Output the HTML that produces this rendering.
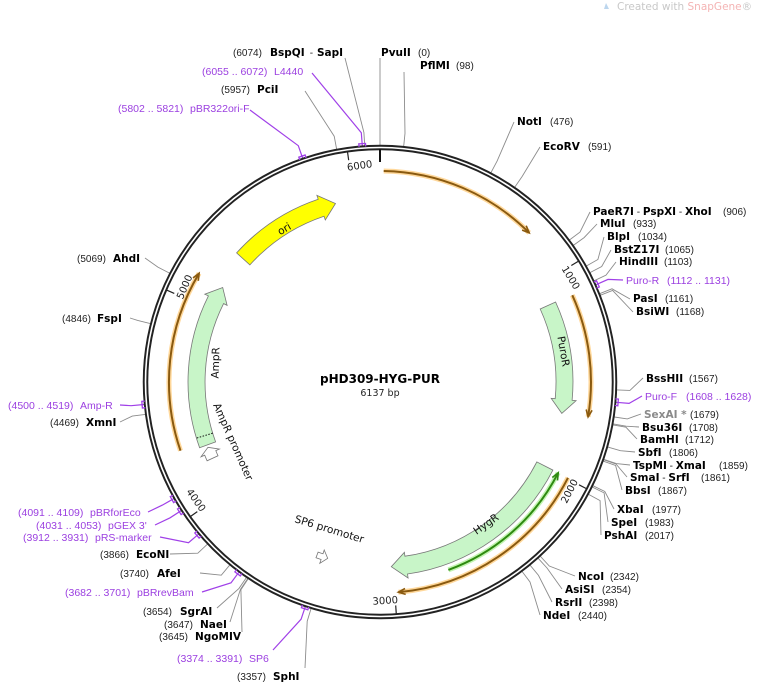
<!DOCTYPE html>
<html><head><meta charset="utf-8"><style>
html,body{margin:0;padding:0;background:#fff;}
svg{display:block;font-family:"DejaVu Sans","Liberation Sans",sans-serif;}
.b{font-weight:bold;font-size:10.5px;fill:#000}
.n{font-size:10px;fill:#222;font-family:"Liberation Sans",sans-serif}
.p{font-size:10.5px;fill:#9b3fe0;font-family:"Liberation Sans",sans-serif}
</style></head><body>
<svg id="s" width="760" height="683" viewBox="0 0 760 683" xmlns="http://www.w3.org/2000/svg">
<text x="617" y="10" font-size="10.5" fill="#c8c8c8">Created with <tspan fill="#f4b4b4">SnapGene</tspan>®</text>
<path d="M606 3 l3 6 l-5 0 z" fill="#bcd6ee"/>
<g id="lines"></g>
<circle cx="380" cy="382" r="234.5" fill="none" stroke="#222" stroke-width="5.5"/>
<circle cx="380" cy="382" r="234.5" fill="none" stroke="#fff" stroke-width="1.6"/>
<g id="feat"></g>
<g id="ticks" font-size="10" fill="#222"></g>
<text x="380" y="383" text-anchor="middle" font-weight="bold" font-size="12">pHD309-HYG-PUR</text>
<text x="380" y="396" text-anchor="middle" font-size="9.5" fill="#222">6137 bp</text>
<text font-size="10.5" fill="#111" transform="translate(286,232) rotate(-30)" text-anchor="middle">ori</text>
<text font-size="10.5" fill="#111" transform="translate(560,352) rotate(80)" text-anchor="middle">PuroR</text>
<text font-size="10.5" fill="#111" transform="translate(488,527) rotate(-35)" text-anchor="middle">HygR</text>
<text font-size="10.5" fill="#111" transform="translate(219,363) rotate(-88)" text-anchor="middle">AmpR</text>
<text font-size="10.5" fill="#111" transform="translate(213,405) rotate(66)">AmpR promoter</text>
<text font-size="10.5" fill="#111" transform="translate(294,522) rotate(17)">SP6 promoter</text>

<text y="56"><tspan x="233" class="n">(6074)</tspan><tspan x="270" class="b">BspQI</tspan><tspan x="307" class="n"> - </tspan><tspan x="317" class="b">SapI</tspan></text>
<text y="56"><tspan x="381" class="b">PvuII</tspan><tspan x="418" class="n">(0)</tspan></text>
<text y="69"><tspan x="420" class="b">PflMI</tspan><tspan x="456" class="n">(98)</tspan></text>
<text y="75"><tspan x="202" class="p">(6055 .. 6072)</tspan><tspan x="274" class="p" font-size="11">L4440</tspan></text>
<text y="93"><tspan x="221" class="n">(5957)</tspan><tspan x="257" class="b">PciI</tspan></text>
<text y="112"><tspan x="118" class="p">(5802 .. 5821)</tspan><tspan x="190" class="p" font-size="11">pBR322ori-F</tspan></text>
<text y="125"><tspan x="517" class="b">NotI</tspan><tspan x="550" class="n">(476)</tspan></text>
<text y="150"><tspan x="543" class="b">EcoRV</tspan><tspan x="588" class="n">(591)</tspan></text>
<text y="215"><tspan x="593" class="b">PaeR7I</tspan><tspan class="n"> - </tspan><tspan class="b">PspXI</tspan><tspan class="n"> - </tspan><tspan class="b">XhoI</tspan><tspan x="723" class="n">(906)</tspan></text>
<text y="227"><tspan x="600" class="b">MluI</tspan><tspan x="633" class="n">(933)</tspan></text>
<text y="240"><tspan x="607" class="b">BlpI</tspan><tspan x="638" class="n">(1034)</tspan></text>
<text y="253"><tspan x="614" class="b">BstZ17I</tspan><tspan x="665" class="n">(1065)</tspan></text>
<text y="265"><tspan x="619" class="b">HindIII</tspan><tspan x="664" class="n">(1103)</tspan></text>
<text y="284"><tspan x="626" class="p">Puro-R</tspan><tspan x="667" class="p">(1112 .. 1131)</tspan></text>
<text y="302"><tspan x="633" class="b">PasI</tspan><tspan x="665" class="n">(1161)</tspan></text>
<text y="315"><tspan x="636" class="b">BsiWI</tspan><tspan x="676" class="n">(1168)</tspan></text>
<text y="382"><tspan x="646" class="b">BssHII</tspan><tspan x="689" class="n">(1567)</tspan></text>
<text y="400"><tspan x="645" class="p">Puro-F</tspan><tspan x="686" class="p">(1608 .. 1628)</tspan></text>
<text y="418"><tspan x="644" class="b" style="fill:#8a8a8a">SexAI *</tspan><tspan x="690" class="n">(1679)</tspan></text>
<text y="431"><tspan x="642" class="b">Bsu36I</tspan><tspan x="689" class="n">(1708)</tspan></text>
<text y="443"><tspan x="640" class="b">BamHI</tspan><tspan x="685" class="n">(1712)</tspan></text>
<text y="456"><tspan x="638" class="b">SbfI</tspan><tspan x="669" class="n">(1806)</tspan></text>
<text y="469"><tspan x="633" class="b">TspMI</tspan><tspan class="n"> - </tspan><tspan class="b">XmaI</tspan><tspan x="719" class="n">(1859)</tspan></text>
<text y="481"><tspan x="630" class="b">SmaI</tspan><tspan class="n"> - </tspan><tspan class="b">SrfI</tspan><tspan x="701" class="n">(1861)</tspan></text>
<text y="494"><tspan x="625" class="b">BbsI</tspan><tspan x="658" class="n">(1867)</tspan></text>
<text y="513"><tspan x="617" class="b">XbaI</tspan><tspan x="652" class="n">(1977)</tspan></text>
<text y="526"><tspan x="611" class="b">SpeI</tspan><tspan x="645" class="n">(1983)</tspan></text>
<text y="539"><tspan x="604" class="b">PshAI</tspan><tspan x="645" class="n">(2017)</tspan></text>
<text y="580"><tspan x="578" class="b">NcoI</tspan><tspan x="610" class="n">(2342)</tspan></text>
<text y="593"><tspan x="565" class="b">AsiSI</tspan><tspan x="602" class="n">(2354)</tspan></text>
<text y="606"><tspan x="555" class="b">RsrII</tspan><tspan x="589" class="n">(2398)</tspan></text>
<text y="619"><tspan x="543" class="b">NdeI</tspan><tspan x="578" class="n">(2440)</tspan></text>
<text y="262"><tspan x="77" class="n">(5069)</tspan><tspan x="113" class="b">AhdI</tspan></text>
<text y="322"><tspan x="62" class="n">(4846)</tspan><tspan x="97" class="b">FspI</tspan></text>
<text y="409"><tspan x="8" class="p">(4500 .. 4519)</tspan><tspan x="80" class="p">Amp-R</tspan></text>
<text y="426"><tspan x="50" class="n">(4469)</tspan><tspan x="86" class="b">XmnI</tspan></text>
<text y="516"><tspan x="18" class="p">(4091 .. 4109)</tspan><tspan x="90" class="p">pBRforEco</tspan></text>
<text y="529"><tspan x="36" class="p">(4031 .. 4053)</tspan><tspan x="108" class="p">pGEX 3'</tspan></text>
<text y="541"><tspan x="23" class="p">(3912 .. 3931)</tspan><tspan x="95" class="p">pRS-marker</tspan></text>
<text y="558"><tspan x="100" class="n">(3866)</tspan><tspan x="136" class="b">EcoNI</tspan></text>
<text y="577"><tspan x="120" class="n">(3740)</tspan><tspan x="157" class="b">AfeI</tspan></text>
<text y="596"><tspan x="65" class="p">(3682 .. 3701)</tspan><tspan x="137" class="p">pBRrevBam</tspan></text>
<text y="615"><tspan x="143" class="n">(3654)</tspan><tspan x="180" class="b">SgrAI</tspan></text>
<text y="628"><tspan x="164" class="n">(3647)</tspan><tspan x="200" class="b">NaeI</tspan></text>
<text y="640"><tspan x="159" class="n">(3645)</tspan><tspan x="195" class="b">NgoMIV</tspan></text>
<text y="662"><tspan x="177" class="p">(3374 .. 3391)</tspan><tspan x="249" class="p">SP6</tspan></text>
<text y="680"><tspan x="237" class="n">(3357)</tspan><tspan x="273" class="b">SphI</tspan></text>
</svg>
<script>
(function(){
var cx=380,cy=382,N=6137,NS="http://www.w3.org/2000/svg";
function P(r,a){var t=a*Math.PI/180;return [cx+r*Math.sin(t),cy-r*Math.cos(t)];}
function A(p){return p/N*360;}
function f(v){return v[0].toFixed(1)+" "+v[1].toFixed(1);}
function el(g,tag,at){var e=document.createElementNS(NS,tag);for(var k in at)e.setAttribute(k,at[k]);document.getElementById(g).appendChild(e);return e;}
var L=[[6074,345,58,0],[0,380,58,0],[98,404,72,0],[6064,312,73,1],[5957,305,91,0],[5812,250,110,1],[476,514,122,0],[591,540,147,0],
[906,590,212,0],[933,597,224,0],[1034,604,237,0],[1065,611,250,0],[1103,616,262,0],[1121,623,280,1],[1161,630,299,0],[1168,633,312,0],
[1567,643,378,0],[1618,642,396,1],[1679,641,414,0],[1708,639,427,0],[1712,637,439,0],[1806,635,452,0],[1859,630,465,0],[1861,627,477,0],[1867,622,490,0],
[1977,614,509,0],[1983,608,522,0],[2017,601,535,0],[2342,575,576,0],[2354,562,589,0],[2398,552,602,0],[2440,540,615,0],
[5069,145,258,0],[4846,130,318,0],[4510,120,405,1],[4469,120,422,0],[4100,148,512,1],[4042,155,525,1],[3921,160,537,1],[3866,170,554,0],
[3740,200,573,0],[3692,202,592,1],[3654,217,608,0],[3647,230,622,0],[3645,242,632,0],[3382,273,650,1],[3357,305,668,0]];
L.forEach(function(l){var a=A(l[0]),p1=P(237,a),p2=P(250,a);var c=l[3]?"#a040e8":"#8c8c8c";
 el("lines","path",{d:"M"+f(p1)+" L"+f(p2)+" L"+l[1]+" "+l[2],fill:"none",stroke:c,"stroke-width":l[3]?1.2:0.9});
 if(l[3]){var q=P(239,a-0.8),q2=P(239,a+0.8);el("feat","path",{d:"M"+f(P(236,a-0.8))+" L"+f(q)+" L"+f(q2)+" L"+f(P(236,a+0.8)),fill:"none",stroke:c,"stroke-width":1.3});}
});
el("ticks","line",{x1:380,y1:149,x2:380,y2:162,stroke:"#111","stroke-width":2});
[1000,2000,3000,4000,5000,6000].forEach(function(n){var a=A(n);var t1=P(224,a),t2=P(232,a);
 el("ticks","line",{x1:t1[0],y1:t1[1],x2:t2[0],y2:t2[1],stroke:"#222","stroke-width":1.2});
 var c=P(222,a+2.6);var rot=a;if(a>90&&a<270)rot=a-180;var t=el("ticks","text",{x:0,y:0,"text-anchor":"middle",transform:"translate("+c[0].toFixed(1)+","+c[1].toFixed(1)+") rotate("+rot.toFixed(1)+")",dy:(a>90&&a<270)?"0":"8"});t.textContent=n;});
function thin(r,a1,a2,col,glow){var large=Math.abs(a2-a1)>180?1:0,sw=a2>a1?1:0;var d="M"+f(P(r,a1))+" A"+r+" "+r+" 0 "+large+" "+sw+" "+f(P(r,a2));
 if(glow)el("feat","path",{d:d,fill:"none",stroke:glow,"stroke-width":5,"stroke-opacity":0.7});
 el("feat","path",{d:d,fill:"none",stroke:col,"stroke-width":2});
 var s=a2>a1?-1:1,h=7/r*180/Math.PI;var tip=P(r,a2),o=P(r+3,a2+s*h),i=P(r-3,a2+s*h);
 el("feat","path",{d:"M"+f(o)+" L"+f(tip)+" L"+f(i),fill:"none",stroke:col,"stroke-width":1.6});}
thin(211,1,45,"#8a5a10","#ffc870");thin(211,65.7,99.5,"#8a5a10","#ffc870");thin(211,117,175,"#8a5a10","#ffc870");
thin(211,251,301,"#8a5a10","#ffc870");thin(200,160,117,"#2e8a10","#a8f090");
function thick(ri,ro,a1,a2,fill,hl){var rm=(ri+ro)/2,s=a2>a1?1:-1,h=hl/rm*180/Math.PI,ah=a2-s*h,sw=s>0?1:0,sw2=s>0?0:1;
 var d="M"+f(P(ro,a1))+" A"+ro+" "+ro+" 0 0 "+sw+" "+f(P(ro,ah))+" L"+f(P(ro+4,ah))+" L"+f(P(rm,a2))+" L"+f(P(ri-4,ah))+" L"+f(P(ri,ah))+" A"+ri+" "+ri+" 0 0 "+sw2+" "+f(P(ri,a1))+" Z";
 el("feat","path",{d:d,fill:fill,stroke:"#777","stroke-width":0.8});}
thick(175,193,312,346,"#ffff00",15);
thick(176,193,65.5,99.8,"#c8f5c8",14);
thick(176,194,117,176.5,"#c8f5c8",15);
thick(175,192,250,301,"#c8f5c8",14);
var d1=P(175,253),d2=P(192,253);el("feat","line",{x1:d1[0],y1:d1[1],x2:d2[0],y2:d2[1],stroke:"#111","stroke-dasharray":"1.5 1.5","stroke-width":1});
thick(178,190,245.5,249.2,"#fff",6);
thick(181,187,200,196.5,"#fff",6);
})();
</script>
</body></html>
